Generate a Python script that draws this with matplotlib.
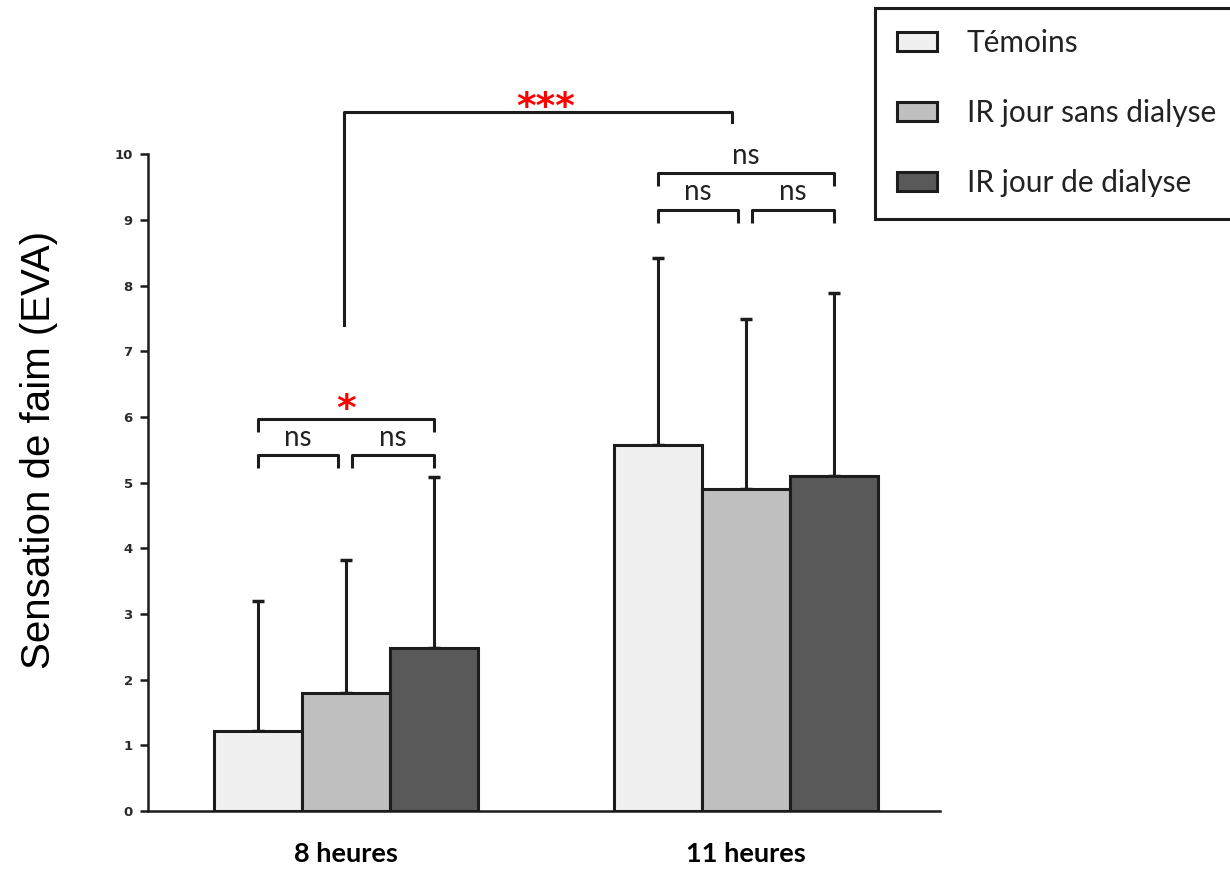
import numpy as np
import matplotlib
matplotlib.use("Agg")
import matplotlib.pyplot as plt

# data
groups = ["8 heures", "11 heures"]
series = ["Témoins", "IR jour sans dialyse", "IR jour de dialyse"]
colors = ["#f0f0f0", "#bfbfbf", "#595959"]
means = {
    "Témoins": [1.22, 5.58],
    "IR jour sans dialyse": [1.80, 4.90],
    "IR jour de dialyse": [2.49, 5.10],
}
sd_up = {
    "Témoins": [1.98, 2.85],
    "IR jour sans dialyse": [2.03, 2.60],
    "IR jour de dialyse": [2.60, 2.79],
}
# (group, bar i, bar j, label)
pairs = [
    (0, 0, 1, "ns"), (0, 1, 2, "ns"), (0, 0, 2, "*"),
    (1, 0, 1, "ns"), (1, 1, 2, "ns"), (1, 0, 2, "ns"),
]

BASE = "Lato"
W = 0.22
EDGE = "#1c1c1c"

fig = plt.figure(figsize=(12.3, 8.72), dpi=100)
ax = fig.add_axes([148 / 1230, 61 / 872, 792 / 1230, 656.5 / 872])

x = np.arange(len(groups))
offsets = [-W, 0, W]
handles = []
for k, name in enumerate(series):
    xs = x + offsets[k]
    b = ax.bar(xs, means[name], W, color=colors[k], edgecolor=EDGE,
               linewidth=2.2, label=name, zorder=2)
    handles.append(b)
    ax.errorbar(xs, means[name], yerr=[np.zeros(len(xs)), sd_up[name]],
                fmt="none", ecolor=EDGE, elinewidth=2.2, capsize=4,
                capthick=2.5, zorder=1)

ax.set_xlim(-0.495, 1.485)
ax.set_ylim(0, 10)
ax.set_yticks(range(11))
ax.set_xticks(x)
ax.set_xticklabels(groups, fontfamily=BASE, fontweight="bold", fontsize=19.5)
ax.tick_params(axis="x", length=0, pad=22)
ax.tick_params(axis="y", length=6, width=1.8, pad=5, color=EDGE)
for lab in ax.get_yticklabels():
    lab.set_fontfamily("DejaVu Sans")
    lab.set_fontweight("bold")
    lab.set_fontsize(9.5)
    lab.set_color("#2a2a2a")
for s in ["top", "right"]:
    ax.spines[s].set_visible(False)
for s in ["left", "bottom"]:
    ax.spines[s].set_linewidth(1.8)
    ax.spines[s].set_color(EDGE)

ax.set_ylabel("Sensation de faim (EVA)", fontfamily="Liberation Sans",
              fontsize=29)
ax.yaxis.set_label_coords(-0.1136, 0.550)


def bracket(x1, x2, y, tip, lw=2.2):
    ax.plot([x1, x1, x2, x2], [y - tip, y, y, y - tip], color=EDGE,
            lw=lw, clip_on=False, solid_capstyle="butt", zorder=3)


# group comparisons
for g, i, j, lab in pairs:
    outer = (j - i) == 2
    xa = g + offsets[i]
    xb = g + offsets[j]
    if not outer:
        if i == 0:
            xb -= 0.02
        else:
            xa += 0.015
    if g == 0:
        y = 5.97 if outer else 5.42
    else:
        y = 9.72 if outer else 9.16
    tip = 0.2
    bracket(xa, xb, y, tip)
    xm = (xa + xb) / 2
    if lab == "*":
        ax.text(xm, y - 0.02, lab, color="red", fontfamily="DejaVu Sans",
                fontweight="bold", fontsize=27, ha="center", va="baseline",
                clip_on=False)
    else:
        ax.text(xm, y + 0.14, lab, fontfamily=BASE, fontsize=20,
                color="#222222", ha="center", va="baseline", clip_on=False)

# 8 h vs 11 h
ax.plot([-0.005, -0.005, 0.965, 0.965], [7.40, 10.64, 10.64, 10.49],
        color=EDGE, lw=2.2, clip_on=False, zorder=3)
ax.text(0.5, 10.55, "***", color="red", fontfamily="DejaVu Sans",
        fontweight="bold", fontsize=27, ha="center", va="baseline",
        clip_on=False)

leg = fig.legend(handles=handles, labels=series, loc="upper left",
                 bbox_to_anchor=(875 / 1230, 1 - 8 / 872), borderaxespad=0,
                 prop={"family": BASE, "size": 21.5}, frameon=True,
                 fancybox=False, edgecolor=EDGE, framealpha=1,
                 handlelength=1.35, handleheight=0.6, handletextpad=1.0,
                 labelspacing=1.4, borderpad=0.72)
leg.get_frame().set_linewidth(2.2)
for t in leg.get_texts():
    t.set_color("#222222")

fig.savefig("out.png", dpi=100)
